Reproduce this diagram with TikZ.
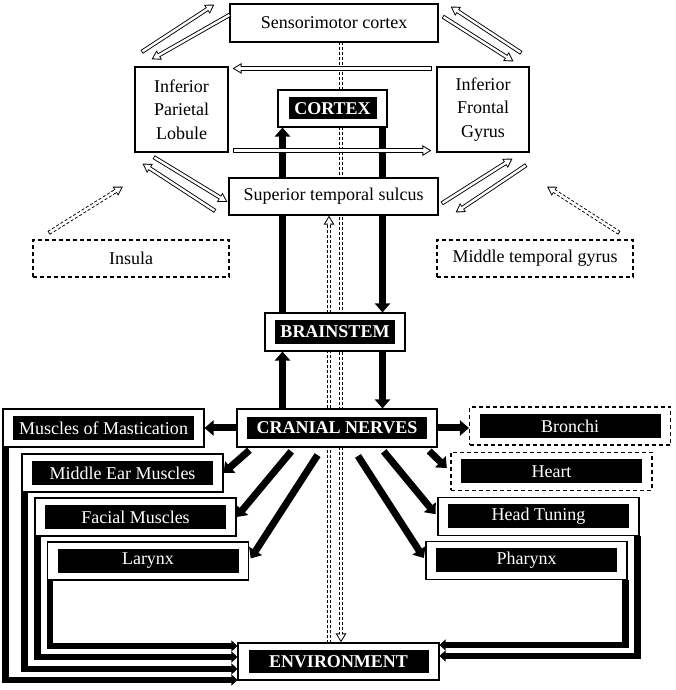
\documentclass[tikz,border=0pt]{standalone}
\usepackage{fontspec}
\setmainfont{Liberation Serif}
\usetikzlibrary{arrows.meta,calc,backgrounds}

\tikzset{box/.style={draw, fill=white, line width=1.1pt, align=center, inner sep=0pt},
    dbox/.style={box, dash pattern=on 4pt off 3pt},
    frame/.style={draw, fill=white, line width=1.1pt, inner sep=0pt,
        minimum width=201pt, minimum height=38pt},
    dframe/.style={frame, dash pattern=on 4pt off 3pt},
    tag/.style={fill=black, text=white, inner sep=0pt,
        minimum width=181pt, minimum height=24pt},
    fat/.style={line width=7pt, -{Triangle[length=9pt,width=15pt]}},
    leg/.style={line width=6.5pt, -{Triangle[length=6pt,width=11pt]}},
    hollow/.style={white, line width=2.4pt, shorten >=1.9pt,
        -{Triangle[length=6.2pt,width=6.9pt]},
        preaction={draw=black, #1, line width=4.2pt, shorten >=0pt, shorten <=-0.9pt,
            -{Triangle[length=9pt,width=10pt,black]}}},
    hollow/.default={solid},
    }

\begin{document}
\begin{tikzpicture}[x=1pt, y=1pt]
\fontsize{18}{23.5}\selectfont
\useasboundingbox (0,0) rectangle (675,690);
% cortical network
\node[box, minimum width=208pt, minimum height=38pt] (sens) at (334,667) {Sensorimotor cortex};
\node[box, minimum width=93pt, minimum height=85pt] (ipl) at (181.5,580.5) {Inferior\\Parietal\\Lobule};
\node[box, minimum width=92pt, minimum height=85pt] (ifg) at (483,580.5) {Inferior\\Frontal\\Gyrus};
\node[frame, minimum width=109pt, minimum height=37pt] (cortex) at (332.5,581.5) {};
\node[tag, minimum width=88pt, minimum height=22pt, font=\bfseries] (cortex-t) at (cortex) {CORTEX};
\node[box, minimum width=209pt, minimum height=37pt] (sts) at (333.5,493.5) {Superior temporal sulcus};
\node[dbox, minimum width=196pt, minimum height=37pt] (insula) at (131,431.5) {Insula};
\node[dbox, minimum width=196pt, minimum height=37pt] (mtg) at (535,431.5) {Middle temporal gyrus};
% brainstem, nerves, targets
\node[frame, minimum width=140pt] (bs) at (335,358) {};
\node[tag, minimum width=120pt, font=\bfseries] (bs-t) at (bs) {BRAINSTEM};
\node[frame, minimum width=200pt] (cn) at (337,262) {};
\node[tag, minimum width=180pt, minimum height=22pt, font=\bfseries] (cn-t) at (cn) {CRANIAL NERVES};
\foreach \n/\x/\y/\s/\t in {mom/103.5/262/frame/Muscles of Mastication,
    mem/122.5/217/frame/Middle Ear Muscles,
    fm/135.5/173/frame/Facial Muscles,
    lar/148/129/frame/Larynx,
    bro/570/264/dframe/Bronchi,
    hea/551.5/218.5/dframe/Heart,
    ht/538.5/173.5/frame/Head Tuning,
    pha/526.5/129.5/frame/Pharynx}{
  \node[\s] (\n) at (\x,\y) {};
  \node[tag] (\n-t) at (\n) {\t};
}
\node[frame, minimum height=37pt] (env) at (338.5,28.5) {};
\node[tag, minimum width=180pt, minimum height=23pt, font=\bfseries] (env-t) at (env) {ENVIRONMENT};

\coordinate (lft) at ([xshift=-50pt]cortex.south);
\coordinate (rgt) at ([xshift=50pt]cortex.south);
\begin{scope}[on background layer]
  \draw[hollow={dash pattern=on 3pt off 2pt}] ([xshift=7.5pt]sts.south |- sens.south) -- ([xshift=7.5pt]sts.south |- env.north);
  \draw[hollow={dash pattern=on 3pt off 2pt}] ([xshift=-4.5pt]sts.south |- env.north) -- ([xshift=-4.5pt]sts.south);
  \draw[fat] (lft |- bs.north) -- (lft);
  \draw[fat] (rgt) -- (rgt |- bs.north);
  \draw[fat] (lft |- cn.north) -- (lft |- bs.south);
  \draw[fat] (rgt |- bs.south) -- (rgt |- cn.north);
\end{scope}

% loops round the cortex
\draw[hollow] ($(ipl.north west)+(8,15)$) -- ($(sens.north west)+(-15,-1)$);
\draw[hollow] ($(sens.west)+(0,8)$) -- ($(ipl.north west)+(17,7)$);
\draw[hollow] ($(ifg.north east)+(-9,14)$) -- ($(sens.north east)+(12,-3)$);
\draw[hollow] ($(sens.east)+(5,6)$) -- ($(ifg.north east)+(-16,5)$);
\draw[hollow] ($(ipl.south west)+(20,-5)$) -- ($(sts.west)+(-1,-5.5)$);
\draw[hollow] ($(sts.south west)+(-14,5)$) -- ($(ipl.south west)+(8,-11)$);
\draw[hollow] ($(sts.east)+(4,-6.5)$) -- ($(ifg.south east)+(-17,-6)$);
\draw[hollow] ($(ifg.south east)+(-4,-13)$) -- ($(sts.south east)+(17,3)$);
\draw[hollow] ($(ifg.north west)+(-5,-2)$) -- ($(ipl.north east)+(4,-2)$);
\draw[hollow] ($(ipl.south east)+(5,2)$) -- ($(ifg.south west)+(-5,2)$);
\draw[hollow={dash pattern=on 3pt off 2pt}] ($(insula.north west)+(17,7)$) -- ($(insula.north)+(-8,53)$);
\draw[hollow={dash pattern=on 3pt off 2pt}] ($(mtg.north east)+(-15,7)$) -- ($(mtg.north)+(12,53)$);

% nerves out to the targets
\draw[fat] (cn.west) -- (mom.east);
\draw[fat] (cn.east) -- (cn.east -| bro.west);
\draw[fat, shorten <=4pt] ([xshift=16pt]cn.south west) -- (mem.east);
\draw[fat, shorten <=5pt] ([xshift=58pt]cn.south west) -- (fm.east);
\draw[fat, shorten <=9pt, shorten >=3pt] ([xshift=86pt]cn.south west) -- (lar.east);
\draw[fat, shorten <=5pt, shorten >=5pt] ([xshift=-12pt]cn.south east) -- (hea.west);
\draw[fat, shorten <=5pt, shorten >=3pt] ([xshift=-57pt]cn.south east) -- (ht.west);
\draw[fat, shorten <=10pt, shorten >=3pt] ([xshift=-85pt]cn.south east) -- (pha.west);
\foreach \b/\dy in {mom/-18.5, mem/-7.5, fm/4.5, lar/15.5}
  \draw[leg] ([xshift=3.25pt]\b.south west) |- ([yshift=\dy pt]env.west);
\foreach \b/\dy in {ht/5.5, pha/16.5}
  \draw[leg] ([xshift=-2pt]\b.south east) |- ([yshift=\dy pt]env.east);
\end{tikzpicture}
\end{document}
